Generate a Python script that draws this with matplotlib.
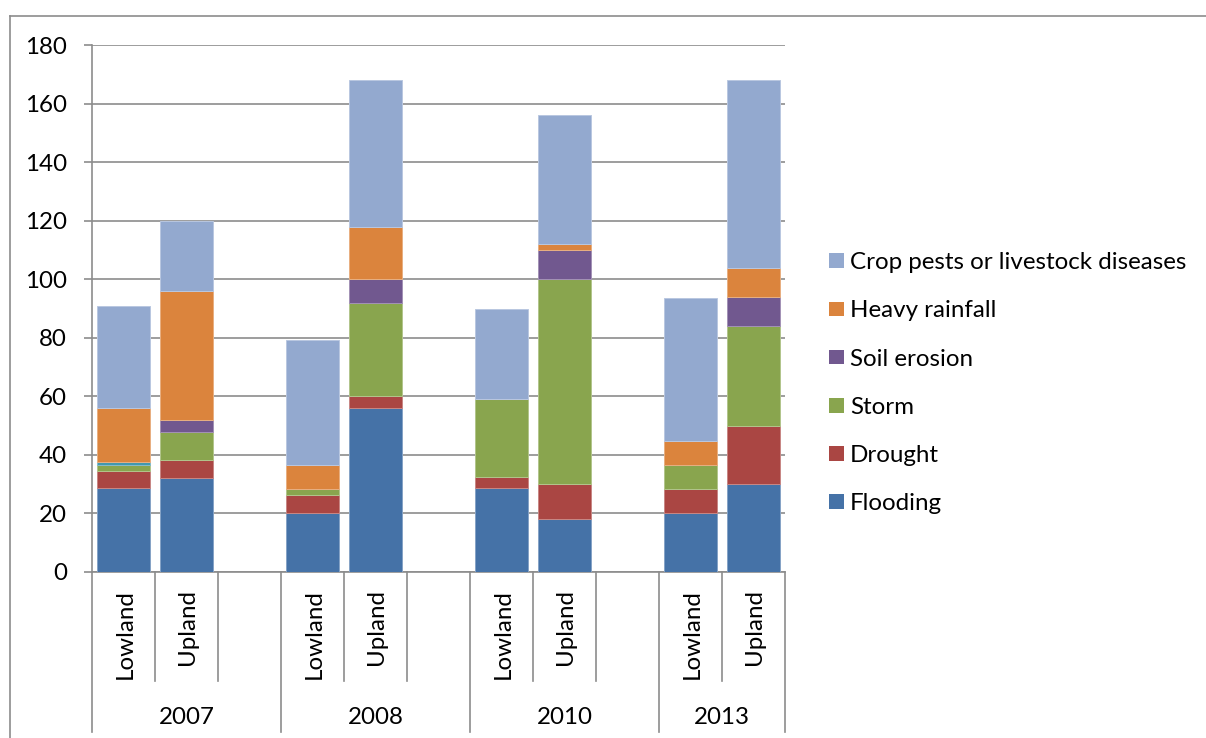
import matplotlib
matplotlib.use("Agg")
import matplotlib.pyplot as plt
from matplotlib.patches import Rectangle
from matplotlib.lines import Line2D
import matplotlib.colors as mcolors

# ---- data -------------------------------------------------------------
years = ["2007", "2008", "2010", "2013"]
zones = ["Lowland", "Upland"]

flooding = [28.7, 32.2, 20.3, 56.0, 28.6, 18.0, 20.3, 30.0]
drought = [5.9, 5.9, 6.1, 4.0, 3.9, 12.0, 8.2, 19.7]
storm = [2.1, 9.8, 2.1, 32.0, 26.7, 70.0, 8.2, 34.2]
soil_erosion = [0.0, 3.9, 0.0, 8.0, 0.0, 9.9, 0.0, 9.9]
other = [1.0, 0.0, 0.0, 0.0, 0.0, 0.0, 0.0, 0.0]
heavy_rainfall = [18.4, 44.1, 8.2, 17.8, 0.0, 2.1, 7.9, 10.1]
crop_pests = [34.7, 24.1, 42.7, 50.2, 30.5, 44.1, 49.1, 64.0]

series = [
    ("Flooding", flooding, "#4572A7", True),
    ("Drought", drought, "#AA4643", True),
    ("Storm", storm, "#89A54E", True),
    ("Soil erosion", soil_erosion, "#71588F", True),
    ("Other", other, "#4198AF", False),
    ("Heavy rainfall", heavy_rainfall, "#DB843D", True),
    ("Crop pests or livestock diseases", crop_pests, "#93A9CF", True),
]

# ---- figure -----------------------------------------------------------
W, H = 1206, 738
plt.rcParams["font.family"] = ["Lato", "DejaVu Sans"]
FS = 17.4
GRAY = "#8c8c8c"

fig = plt.figure(figsize=(W / 100, H / 100), dpi=100)

x0, x1, y0, y1 = 92, 785, 45, 572  # plot area in pixels
ax = fig.add_axes([x0 / W, (H - y1) / H, (x1 - x0) / W, (y1 - y0) / H])

# slot layout: two zones per year, with an empty slot between years
slots_per_year = 3
positions = []
for gi in range(len(years)):
    for zi in range(len(zones)):
        positions.append(gi * slots_per_year + zi)
n_slots = slots_per_year * (len(years) - 1) + len(zones)

def lighten(c, f=0.35):
    r, g, b = mcolors.to_rgb(c)
    return (r + (1 - r) * f, g + (1 - g) * f, b + (1 - b) * f)

bottom = [0.0] * len(positions)
for name, vals, col, _ in series:
    ax.bar(positions, vals, width=0.83, bottom=bottom, color=col,
           edgecolor=lighten(col), linewidth=0.7, zorder=3)
    bottom = [b + v for b, v in zip(bottom, vals)]

ax.set_xlim(-0.5, n_slots - 0.5)
ax.set_ylim(0, 180)
ax.set_yticks(range(0, 181, 20))
ax.yaxis.grid(True, color=GRAY, linewidth=1.2, zorder=0)
ax.set_axisbelow(True)
for s in ["top", "right"]:
    ax.spines[s].set_visible(False)
ax.spines["left"].set_color(GRAY)
ax.spines["left"].set_linewidth(1.2)
ax.spines["bottom"].set_color(GRAY)
ax.spines["bottom"].set_linewidth(1.2)
ax.tick_params(axis="y", length=6, width=1.2, color=GRAY, pad=12,
               labelsize=FS, labelcolor="black")
ax.set_xticks([])

# ---- two-level category axis -----------------------------------------
tr = ax.get_xaxis_transform()
ph = y1 - y0
inner_bottom = -(681 - y1) / ph
outer_bottom = -(732 - y1) / ph
label_top = -(589 - y1) / ph
year_y = -(717 - y1) / ph

for gi, yr in enumerate(years):
    start = gi * slots_per_year - 0.5
    count = slots_per_year if gi < len(years) - 1 else len(zones)
    end = start + count
    # year separators
    ax.add_line(Line2D([start, start], [0, outer_bottom], transform=tr,
                       color=GRAY, lw=1.2, clip_on=False))
    # slot separators inside the year group
    for k in range(1, count):
        xs = start + k
        ax.add_line(Line2D([xs, xs], [0, inner_bottom], transform=tr,
                           color=GRAY, lw=1.2, clip_on=False))
    for zi, z in enumerate(zones):
        ax.text(gi * slots_per_year + zi + 0.02, label_top, z, transform=tr,
                rotation=90, ha="center", va="top", fontsize=FS)
    ax.text((start + end) / 2, year_y, yr, transform=tr,
            ha="center", va="center", fontsize=FS)
last = n_slots - 0.5
ax.add_line(Line2D([last, last], [0, outer_bottom], transform=tr,
                   color=GRAY, lw=1.2, clip_on=False))

# ---- legend (top entry is the last stacked series) -------------------
legend_items = [(n, c) for n, _, c, show in series if show][::-1]
row0, row_step = 260.7, 48.2
for i, (name, col) in enumerate(legend_items):
    yc = row0 + i * row_step
    fig.add_artist(Rectangle((829 / W, (H - yc - 7.3) / H), 14.7 / W, 14.7 / H,
                             transform=fig.transFigure, facecolor=col,
                             edgecolor="none"))
    fig.text(850 / W, (H - yc) / H, name, ha="left", va="center_baseline",
             fontsize=FS)

# ---- chart-area frame (top and left edges) ---------------------------
fig.add_artist(Line2D([10 / W, 10 / W], [0, (H - 15.7) / H],
                      transform=fig.transFigure, color=GRAY, lw=1.2))
fig.add_artist(Line2D([10 / W, 1.0], [(H - 15.7) / H, (H - 15.7) / H],
                      transform=fig.transFigure, color=GRAY, lw=1.2))

fig.savefig("out.png", dpi=100, facecolor="white")
